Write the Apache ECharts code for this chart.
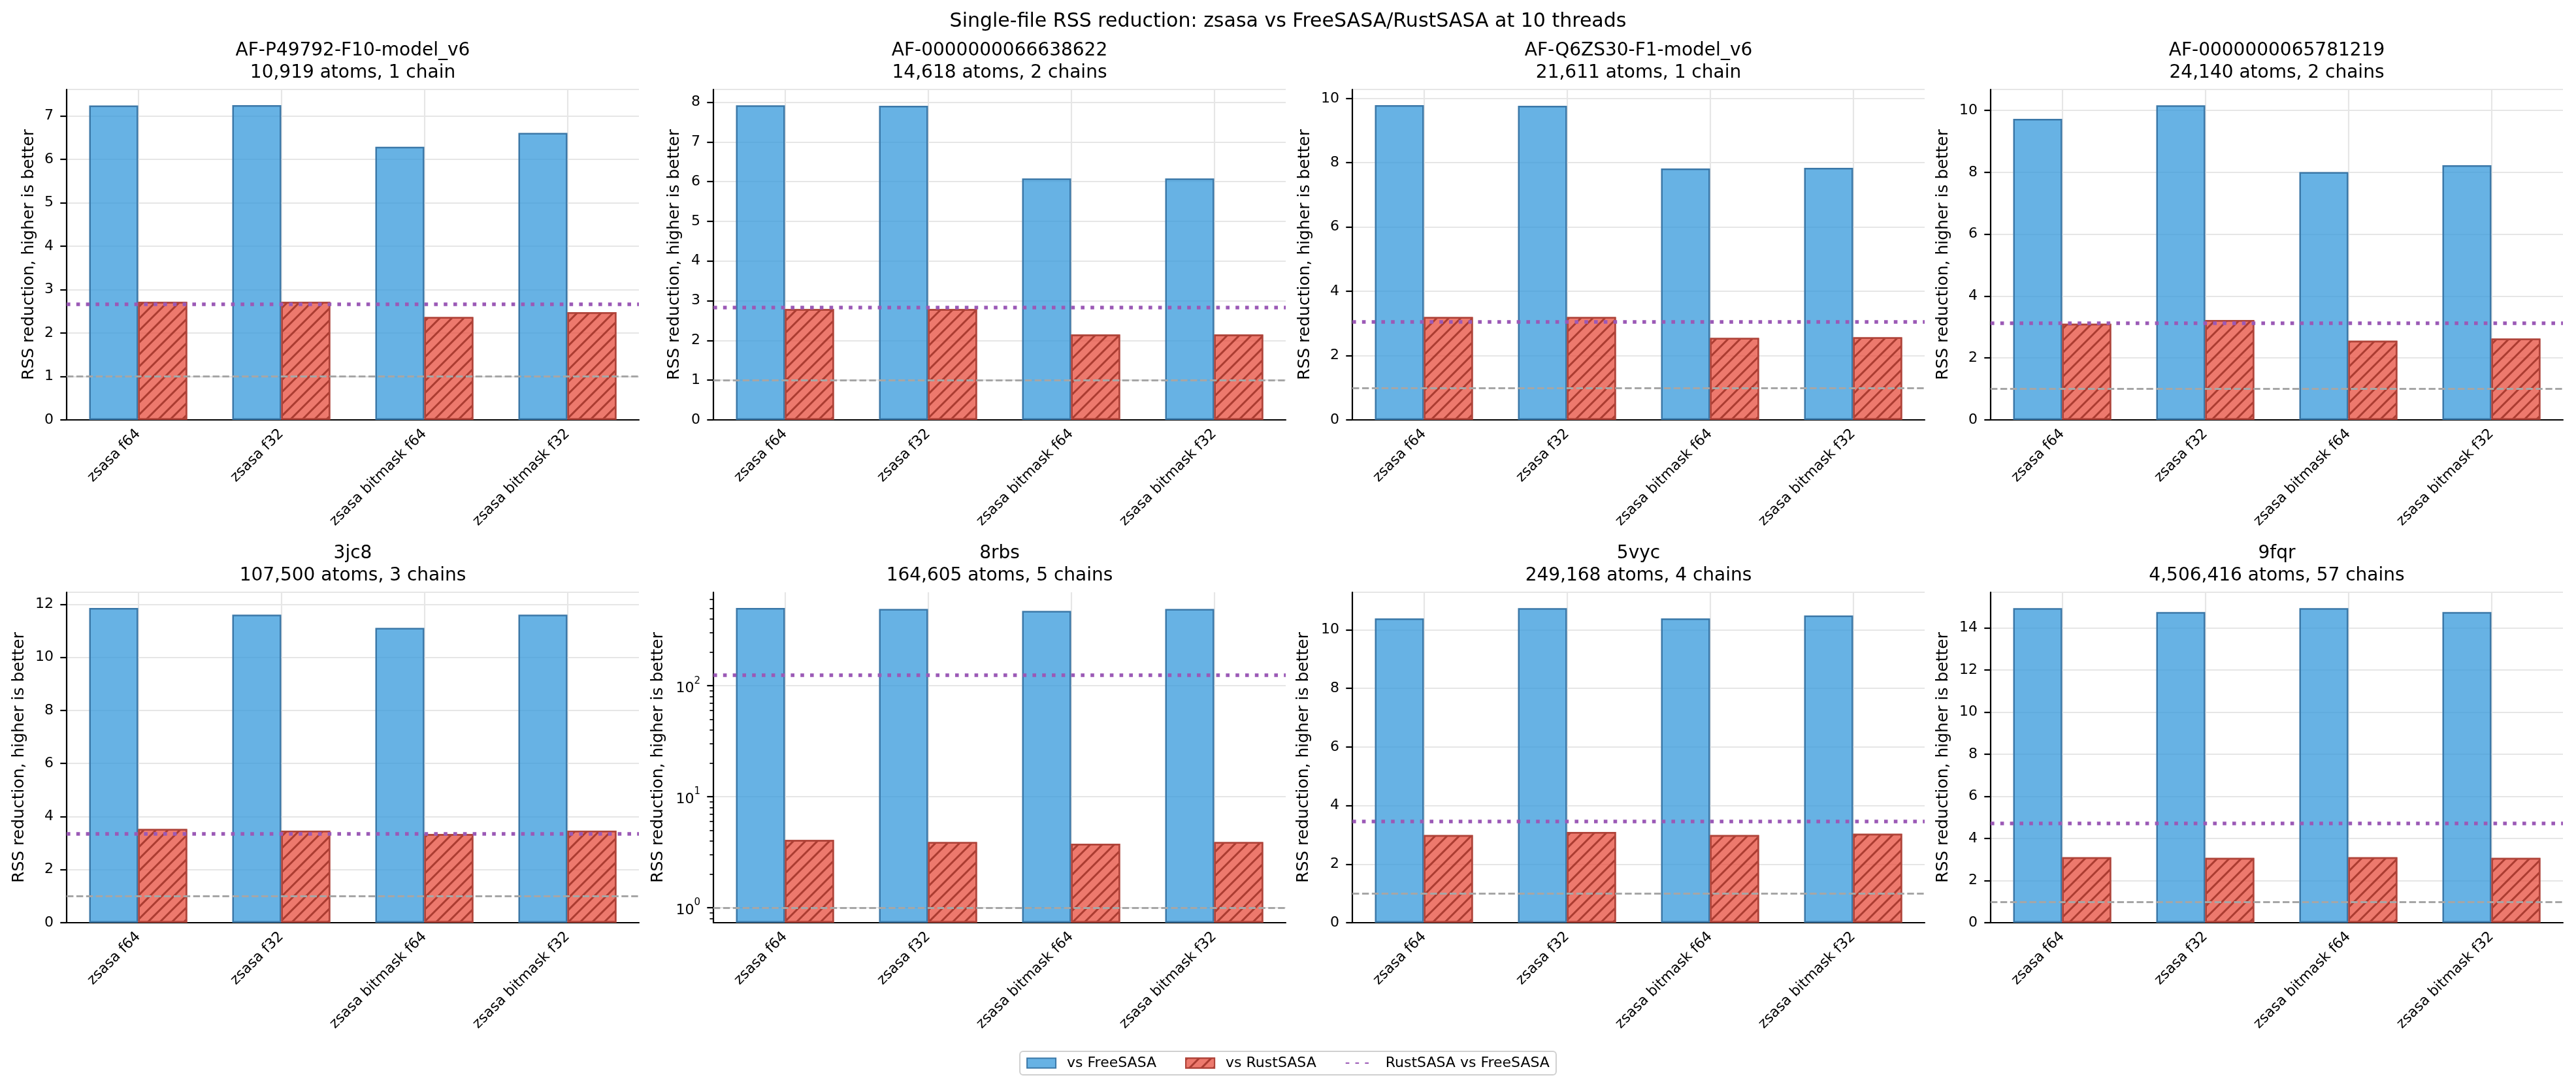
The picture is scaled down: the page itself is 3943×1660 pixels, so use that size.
<!DOCTYPE html>
<html>
<head>
<meta charset="utf-8">
<title>Single-file RSS reduction</title>
<script src="https://cdn.jsdelivr.net/npm/echarts@6/dist/echarts.min.js"></script>
<style>
  html, body { margin: 0; padding: 0; background: #fff; }
  #chart { width: 3943px; height: 1660px; }
</style>
</head>
<body>
<div id="chart"></div>
<script>
// one panel per structure
const structures = ['AF-P49792-F10-model_v6', 'AF-0000000066638622', 'AF-Q6ZS30-F1-model_v6', 'AF-0000000065781219',
  '3jc8', '8rbs', '5vyc', '9fqr']
const structureInfo = ['10,919 atoms, 1 chain', '14,618 atoms, 2 chains', '21,611 atoms, 1 chain', '24,140 atoms, 2 chains',
  '107,500 atoms, 3 chains', '164,605 atoms, 5 chains', '249,168 atoms, 4 chains', '4,506,416 atoms, 57 chains']
const methods = ['zsasa f64', 'zsasa f32', 'zsasa bitmask f64', 'zsasa bitmask f32']

// RSS reduction factors
const vsFreeSASA = [
  [7.24, 7.25, 6.29, 6.61],
  [7.92, 7.91, 6.08, 6.08],
  [9.79, 9.77, 7.82, 7.84],
  [9.73, 10.17, 8.01, 8.23],
  [11.86, 11.61, 11.11, 11.61],
  [502, 492, 472, 492],
  [10.39, 10.74, 10.39, 10.49],
  [14.94, 14.75, 14.94, 14.75]
]
const vsRustSASA = [
  [2.72, 2.72, 2.37, 2.48],
  [2.79, 2.79, 2.15, 2.15],
  [3.20, 3.20, 2.55, 2.57],
  [3.11, 3.23, 2.56, 2.63],
  [3.53, 3.47, 3.34, 3.47],
  [4.08, 3.91, 3.78, 3.91],
  [2.99, 3.10, 2.99, 3.04],
  [3.11, 3.08, 3.11, 3.08]
]
const rustVsFree = [2.66, 2.84, 3.05, 3.13, 3.35, 124, 3.45, 4.72]
const baseline = 1

// y axis ranges / ticks
const yMin = [0, 0, 0, 0, 0, 0.733, 0, 0]
const yMax = [7.61, 8.32, 10.28, 10.68, 12.45, 695, 11.28, 15.69]
const yInterval = [1, 1, 2, 2, 2, null, 2, 2]
const logPanel = 5
const logMajor = [1, 10, 100]
const logMinor = [0.8, 0.9, 2, 3, 4, 5, 6, 7, 8, 9, 20, 30, 40, 50, 60, 70, 80, 90, 200, 300, 400, 500, 600]

const FONT = 'DejaVu Sans'
const BLUE = 'rgba(52,152,219,0.75)'
const BLUE_EDGE = '#3b78a8'
const RED = 'rgba(231,76,60,0.75)'
const RED_EDGE = '#b0443a'
const PURPLE = '#9b59b6'
const GRID_COLOR = '#e6e6e6'

// layout of the 2x4 panels
const colLeft = [102, 1092, 2070, 3047]
const rowTop = [137, 907]
const panelW = 876
const panelH = 506
const titleTop = [61, 831]
const nameGaps = [45, 47, 60, 60, 60, 72, 62, 60]

const chart = echarts.init(document.getElementById('chart'))

const grids = []
const xAxes = []
const yAxes = []
const series = []
const titles = [{
  text: 'Single-file RSS reduction: zsasa vs FreeSASA/RustSASA at 10 threads',
  left: 'center',
  top: 18,
  padding: 0,
  textStyle: { fontFamily: FONT, fontSize: 30, fontWeight: 'normal', color: '#000', lineHeight: 30 }
}]

structures.forEach((name, i) => {
  const row = Math.floor(i / 4)
  const col = i % 4
  const isLog = i === logPanel

  grids.push({ left: colLeft[col], top: rowTop[row], width: panelW, height: panelH })

  titles.push({
    text: name + '\n' + structureInfo[i],
    left: colLeft[col] + panelW / 2,
    top: titleTop[row],
    textAlign: 'center',
    padding: 0,
    textStyle: { fontFamily: FONT, fontSize: 28, fontWeight: 'normal', color: '#000', lineHeight: 34 }
  })

  xAxes.push({
    type: 'category',
    gridIndex: i,
    data: methods,
    boundaryGap: true,
    axisLine: { lineStyle: { color: '#000', width: 2.2 } },
    axisTick: { alignWithLabel: true, length: 9.7, lineStyle: { color: '#000', width: 2.2 } },
    axisLabel: { interval: 0, rotate: 45, margin: 18, fontSize: 22, fontFamily: FONT, color: '#000' },
    splitLine: { show: true, alignWithLabel: true, lineStyle: { color: GRID_COLOR, width: 2.2 } }
  })

  const yAxisIndex = yAxes.length
  if (isLog) {
    yAxes.push({
      type: 'log',
      gridIndex: i,
      min: yMin[i],
      max: yMax[i],
      startValue: yMin[i],
      name: 'RSS reduction, higher is better',
      nameLocation: 'middle',
      nameGap: nameGaps[i],
      nameTextStyle: { fontFamily: FONT, fontSize: 25, color: '#000' },
      axisLine: { show: true, lineStyle: { color: '#000', width: 2.2 } },
      axisTick: { show: true, length: 9.7, customValues: logMajor, lineStyle: { color: '#000', width: 2.2 } },
      axisLabel: {
        customValues: logMajor,
        margin: 20,
        color: '#000',
        fontFamily: FONT,
        formatter: v => '{b|10}{sup|' + Math.round(Math.log10(v)) + '}',
        rich: {
          b: { fontSize: 22, fontFamily: FONT, color: '#000', lineHeight: 30, verticalAlign: 'bottom' },
          sup: { fontSize: 15, fontFamily: FONT, color: '#000', lineHeight: 15, verticalAlign: 'top' }
        }
      },
      splitLine: { show: true, lineStyle: { color: GRID_COLOR, width: 2.2 } }
    })
    // minor ticks only
    yAxes.push({
      type: 'log',
      gridIndex: i,
      min: yMin[i],
      max: yMax[i],
      position: 'left',
      axisLine: { show: false },
      axisTick: { show: true, length: 5.6, customValues: logMinor, lineStyle: { color: '#000', width: 1.7 } },
      axisLabel: { show: false },
      splitLine: { show: false }
    })
  } else {
    yAxes.push({
      type: 'value',
      gridIndex: i,
      min: yMin[i],
      max: yMax[i],
      interval: yInterval[i],
      name: 'RSS reduction, higher is better',
      nameLocation: 'middle',
      nameGap: nameGaps[i],
      nameTextStyle: { fontFamily: FONT, fontSize: 25, color: '#000' },
      axisLine: { show: true, lineStyle: { color: '#000', width: 2.2 } },
      axisTick: { show: true, length: 9.7, lineStyle: { color: '#000', width: 2.2 } },
      axisLabel: { margin: 20, fontSize: 22, fontFamily: FONT, color: '#000', showMaxLabel: false },
      splitLine: { show: true, lineStyle: { color: GRID_COLOR, width: 2.2 } }
    })
  }

  series.push({
    name: 'vs FreeSASA',
    type: 'bar',
    xAxisIndex: i,
    yAxisIndex: yAxisIndex,
    data: vsFreeSASA[i],
    barWidth: 75,
    barGap: '0%',
    itemStyle: { color: BLUE, borderColor: BLUE_EDGE, borderWidth: 2.5 }
  })
  series.push({
    name: 'vs RustSASA',
    type: 'bar',
    xAxisIndex: i,
    yAxisIndex: yAxisIndex,
    data: vsRustSASA[i],
    barWidth: 75,
    barGap: '0%',
    itemStyle: {
      color: RED,
      borderColor: RED_EDGE,
      borderWidth: 2.5,
      decal: {
        symbol: 'rect',
        color: 'rgba(150,40,30,0.75)',
        dashArrayX: [1, 0],
        dashArrayY: [2.6, 9.2],
        rotation: -Math.PI / 4
      }
    }
  })
  series.push({
    name: 'RustSASA vs FreeSASA',
    type: 'line',
    xAxisIndex: i,
    yAxisIndex: yAxisIndex,
    data: [],
    symbol: 'none',
    lineStyle: { color: PURPLE, width: 5.6, type: [5.6, 9.2] },
    itemStyle: { color: PURPLE },
    markLine: {
      silent: true,
      symbol: ['none', 'none'],
      label: { show: false },
      data: [
        { yAxis: rustVsFree[i], lineStyle: { color: PURPLE, width: 5.6, type: [5.6, 9.2], cap: 'butt' } },
        { yAxis: baseline, lineStyle: { color: '#a6a6a6', width: 2.8, type: [10.4, 4.5] } }
      ]
    }
  })
})

chart.setOption({
  animation: false,
  backgroundColor: '#fff',
  textStyle: { fontFamily: FONT },
  title: titles,
  grid: grids,
  xAxis: xAxes,
  yAxis: yAxes,
  series: series,
  legend: {
    data: [
      { name: 'vs FreeSASA', icon: 'rect' },
      { name: 'vs RustSASA', icon: 'rect' },
      { name: 'RustSASA vs FreeSASA', itemStyle: { opacity: 0 } }
    ],
    left: 'center',
    top: 1610,
    itemWidth: 44,
    itemHeight: 15,
    itemGap: 44,
    padding: [7, 10],
    borderColor: '#d0d0d0',
    borderWidth: 2,
    borderRadius: 5,
    textStyle: { fontFamily: FONT, fontSize: 22, color: '#000', padding: [0, 0, 0, 12] }
  }
})
</script>
</body>
</html>
